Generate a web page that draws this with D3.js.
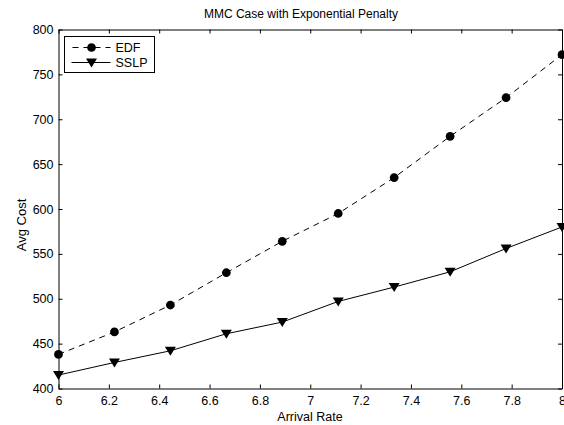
<!DOCTYPE html>
<html>
<head>
<meta charset="utf-8">
<script src="https://d3js.org/d3.v7.min.js"></script>
<style>
  body { margin: 0; background: #fff; }
  svg { display: block; font-family: "Liberation Sans", Arial, sans-serif; }
</style>
</head>
<body>
<div id="chart"></div>
<script>
// data
const arrivalRate = [6, 6.2222, 6.4444, 6.6667, 6.8889, 7.1111, 7.3333, 7.5556, 7.7778, 8]
const edf = [438, 463, 493, 529, 564, 595, 635, 681, 724, 772]
const sslp = [415, 429, 442, 461, 474, 497, 513, 530, 556, 580]
const xTicks = [6, 6.2, 6.4, 6.6, 6.8, 7, 7.2, 7.4, 7.6, 7.8, 8]
const yTicks = [400, 450, 500, 550, 600, 650, 700, 750, 800]

const width = 564, height = 425
const margin = {top: 29.5, right: 2, bottom: 36.5, left: 58.5}

const svg = d3.select("#chart").append("svg")
  .attr("width", width).attr("height", height)

const x = d3.scaleLinear().domain([6, 8])
  .range([margin.left, width - margin.right])
const y = d3.scaleLinear().domain([400, 800])
  .range([height - margin.bottom, margin.top])

// axes, ticks pointing inward like matlab
const tick = 4
const fmt = d => String(d)

svg.append("g")
  .attr("transform", `translate(0,${height - margin.bottom})`)
  .call(d3.axisBottom(x).tickValues(xTicks).tickFormat(fmt).tickSizeInner(-tick).tickSizeOuter(0).tickPadding(8))
svg.append("g")
  .attr("transform", `translate(0,${margin.top})`)
  .call(d3.axisTop(x).tickValues(xTicks).tickFormat("").tickSizeInner(-tick).tickSizeOuter(0))
svg.append("g")
  .attr("transform", `translate(${margin.left},0)`)
  .call(d3.axisLeft(y).tickValues(yTicks).tickFormat(fmt).tickSizeInner(-tick).tickSizeOuter(0).tickPadding(5))
svg.append("g")
  .attr("transform", `translate(${width - margin.right},0)`)
  .call(d3.axisRight(y).tickValues(yTicks).tickFormat("").tickSizeInner(-tick).tickSizeOuter(0))

svg.selectAll(".tick text").attr("font-size", 12.5).attr("fill", "#000")
  .attr("font-family", "Liberation Sans, Arial, sans-serif")
svg.selectAll(".domain, .tick line").attr("stroke", "#000")

// titles
svg.append("text").attr("x", 301).attr("y", 18)
  .attr("text-anchor", "middle").attr("font-size", 12).text("MMC Case with Exponential Penalty")
svg.append("text").attr("x", 310).attr("y", 421)
  .attr("text-anchor", "middle").attr("font-size", 12.5).text("Arrival Rate")
svg.append("text").attr("transform", "translate(26,225) rotate(-90)")
  .attr("text-anchor", "middle").attr("font-size", 13).text("Avg Cost")

const line = d3.line().x(d => x(d[0])).y(d => y(d[1]))
const edfPts = arrivalRate.map((a, i) => [a, edf[i]])
const sslpPts = arrivalRate.map((a, i) => [a, sslp[i]])

svg.append("path").datum(edfPts).attr("d", line)
  .attr("fill", "none").attr("stroke", "#000").attr("stroke-width", 1).attr("stroke-dasharray", "6,5")
svg.append("path").datum(sslpPts).attr("d", line)
  .attr("fill", "none").attr("stroke", "#000").attr("stroke-width", 1)

const circle = d3.symbol().type(d3.symbolCircle).size(60)
const tri = g => g.attr("d", "M-5.5,-4L5.5,-4L0,5Z")

svg.append("g").selectAll("path").data(edfPts).join("path")
  .attr("d", circle).attr("transform", d => `translate(${x(d[0])},${y(d[1])})`)
svg.append("g").selectAll("path").data(sslpPts).join("path")
  .call(tri).attr("transform", d => `translate(${x(d[0])},${y(d[1])})`)

// legend
const lg = svg.append("g").attr("transform", "translate(64.5,36.5)")
lg.append("rect").attr("width", 90).attr("height", 36)
  .attr("fill", "#fff").attr("stroke", "#000")
lg.append("line").attr("x1", 7).attr("x2", 46).attr("y1", 11).attr("y2", 11)
  .attr("stroke", "#000").attr("stroke-dasharray", "6,5").attr("stroke-dashoffset", -1)
lg.append("path").attr("d", circle).attr("transform", "translate(27,11)")
lg.append("text").attr("x", 51).attr("y", 15.5).attr("font-size", 12.5).text("EDF")
lg.append("line").attr("x1", 7).attr("x2", 46).attr("y1", 26).attr("y2", 26).attr("stroke", "#000")
lg.append("path").call(tri).attr("transform", "translate(27,26)")
lg.append("text").attr("x", 51).attr("y", 30.5).attr("font-size", 12.5).text("SSLP")
</script>
</body>
</html>
